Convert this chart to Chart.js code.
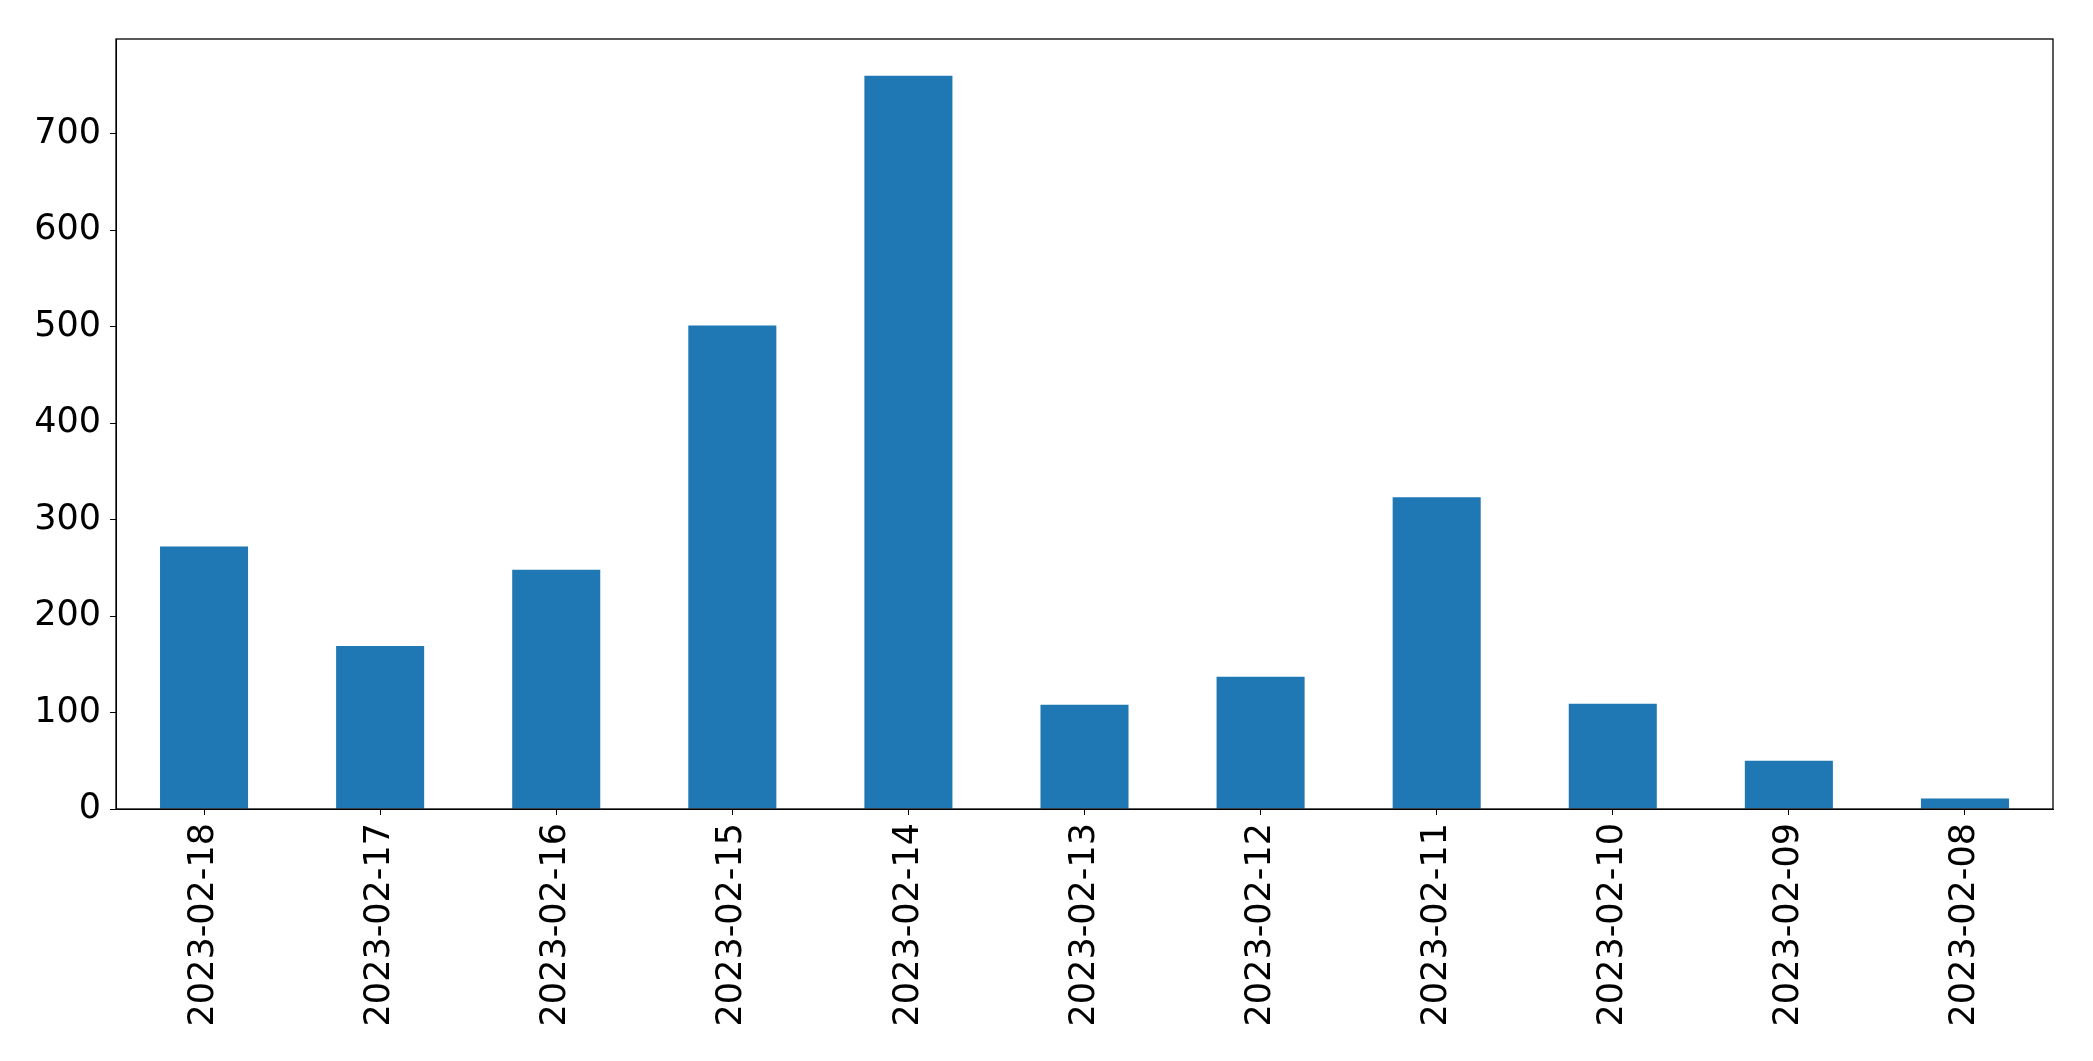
<!DOCTYPE html>
<html>
<head>
<meta charset="utf-8">
<script src="https://cdn.jsdelivr.net/npm/chart.js@4/dist/chart.umd.min.js"></script>
<style>
  html, body { margin: 0; padding: 0; background: #fff; }
  #wrap { width: 2093px; height: 1061px; }
</style>
</head>
<body>
<div id="wrap"><canvas id="bar-chart"></canvas></div>
<script>
const dates = ["2023-02-18", "2023-02-17", "2023-02-16", "2023-02-15", "2023-02-14", "2023-02-13",
  "2023-02-12", "2023-02-11", "2023-02-10", "2023-02-09", "2023-02-08"];
const counts = [272, 169, 248, 501, 760, 108, 137, 323, 109, 50, 11];
const yTicks = [0, 100, 200, 300, 400, 500, 600, 700];

// draw the full box round the plot area, like matplotlib's spines
const frame = {
  id: "frame",
  afterDraw(chart) {
    const { ctx, chartArea: a } = chart;
    ctx.save();
    ctx.strokeStyle = "#000";
    ctx.lineWidth = 1.3;
    ctx.strokeRect(a.left, a.top, a.right - a.left, a.bottom - a.top);
    ctx.restore();
  },
};

const font = { family: "'DejaVu Sans'", size: 35 };

new Chart(document.getElementById("bar-chart"), {
  type: "bar",
  data: {
    labels: dates,
    datasets: [
      {
        data: counts,
        backgroundColor: "#1f77b4",
        barPercentage: 0.5,
        categoryPercentage: 1.0,
      },
    ],
  },
  options: {
    responsive: true,
    maintainAspectRatio: false,
    animation: false,
    layout: { padding: { top: 39, right: 40, left: 0, bottom: 0 } },
    plugins: { legend: { display: false }, tooltip: { enabled: false } },
    scales: {
      x: {
        grid: { drawOnChartArea: false, offset: false, color: "#000", tickLength: 6 },
        border: { color: "#000" },
        ticks: { color: "#000", font, minRotation: 90, maxRotation: 90, padding: 8 },
        afterFit(axis) { axis.height = 252; },
      },
      y: {
        min: 0,
        max: 798,
        grid: { drawOnChartArea: false, color: "#000", tickLength: 6 },
        border: { color: "#000" },
        afterBuildTicks(axis) { axis.ticks = yTicks.map((v) => ({ value: v })); },
        ticks: { color: "#000", font, padding: 9 },
        afterFit(axis) { axis.width = 116; },
      },
    },
  },
  plugins: [frame],
});
</script>
</body>
</html>
